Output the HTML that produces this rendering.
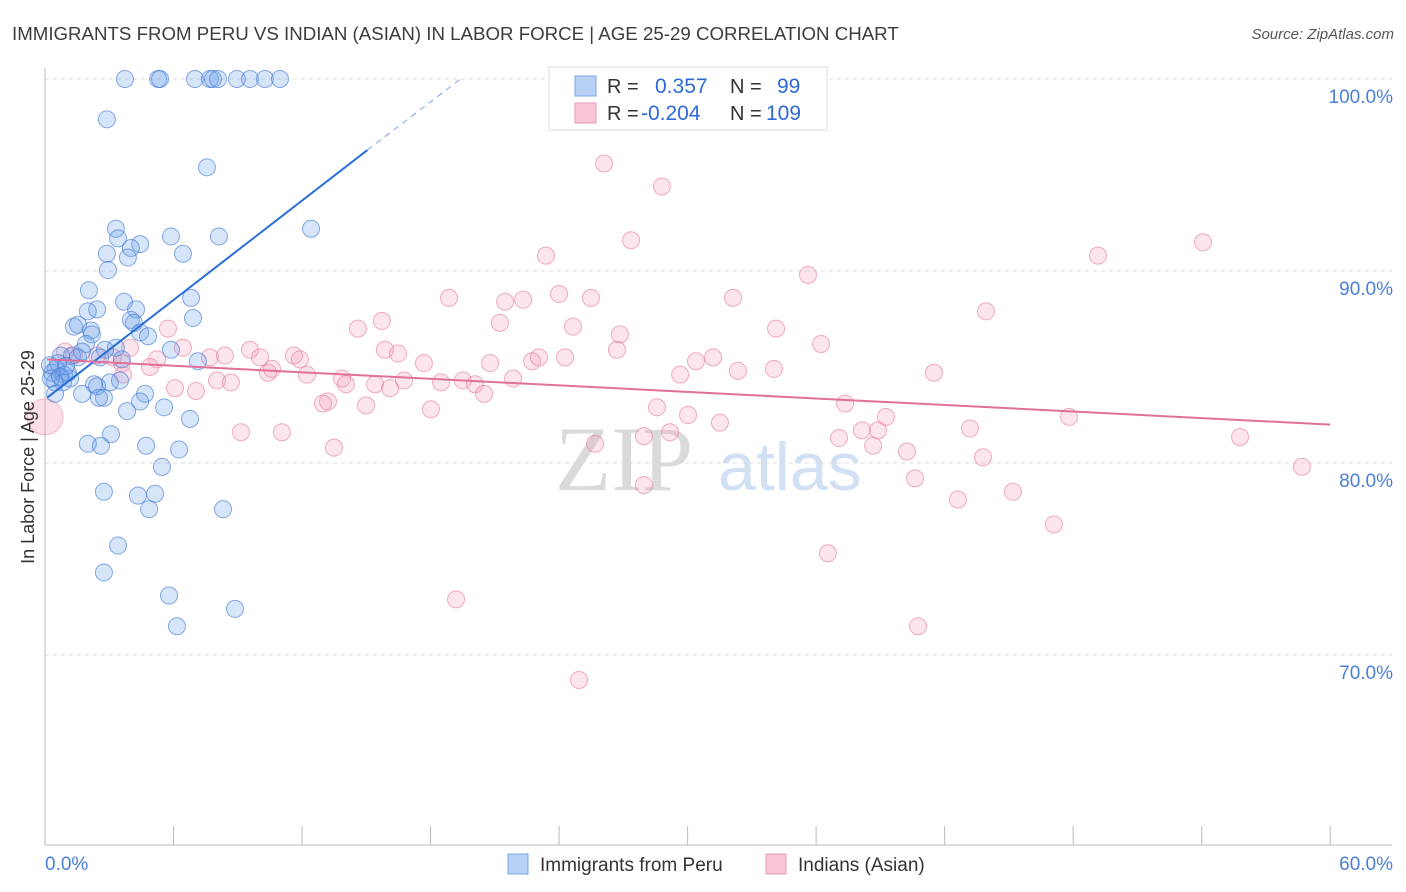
<!DOCTYPE html>
<html><head><meta charset="utf-8"><style>
body{margin:0;background:#fff;font-family:"Liberation Sans",sans-serif;}
svg{display:block}
</style></head><body>
<svg id="chart" width="1406" height="892" xmlns="http://www.w3.org/2000/svg">
<text x="12" y="40" font-size="18.7" fill="#3c3c3c">IMMIGRANTS FROM PERU VS INDIAN (ASIAN) IN LABOR FORCE | AGE 25-29 CORRELATION CHART</text>
<text x="1394" y="39" font-size="15" font-style="italic" fill="#555" text-anchor="end">Source: ZipAtlas.com</text>
<g>
<text x="555" y="490" font-size="92" font-family="Liberation Serif, serif" fill="#dadada">ZIP</text>
<text x="718" y="490" font-size="68" fill="#d2e0f3">atlas</text>
</g>
<g id="grid"></g>
<g id="axes"></g>
<g id="marks"></g>
<g id="lines"></g>
<g>
<rect x="549" y="67" width="278" height="63" fill="#fff" stroke="#ddd"/>
<rect x="575" y="76" width="21" height="20" fill="#b8d0f5" stroke="#7aa6e6"/>
<text x="607" y="93" font-size="20" fill="#333">R =</text>
<text x="655" y="93" font-size="21" fill="#2d6ad8">0.357</text>
<text x="730" y="93" font-size="20" fill="#333">N =</text>
<text x="777" y="93" font-size="21" fill="#2d6ad8">99</text>
<rect x="575" y="103" width="21" height="20" fill="#f9c6d5" stroke="#ea9ab3"/>
<text x="607" y="120" font-size="20" fill="#333">R =</text>
<text x="641" y="120" font-size="21" fill="#2d6ad8">-0.204</text>
<text x="730" y="120" font-size="20" fill="#333">N =</text>
<text x="766" y="120" font-size="21" fill="#2d6ad8">109</text>
</g>
<g>
<rect x="508" y="854" width="20" height="20" fill="#b8d0f5" stroke="#7aa6e6"/>
<text x="540" y="871" font-size="19" fill="#333">Immigrants from Peru</text>
<rect x="766" y="854" width="20" height="20" fill="#f9c6d5" stroke="#ea9ab3"/>
<text x="798" y="871" font-size="19" fill="#333">Indians (Asian)</text>
</g>
<text transform="translate(34,457) rotate(-90)" font-size="18" fill="#333" text-anchor="middle">In Labor Force | Age 25-29</text>
<text x="45" y="870" font-size="19" fill="#4a7fd8">0.0%</text>
<text x="1393" y="870" font-size="19" fill="#4a7fd8" text-anchor="end">60.0%</text>
</svg>
<script>
const yTicks=[100,90,80,70];
const yTickLabels=["100.0%","90.0%","80.0%","70.0%"];
const xTicks=[0,6,12,18,24,30,36,42,48,54,60];
const peruX=[3.73,5.28,5.37,7.0,7.7,7.84,8.08,8.96,9.57,10.27,10.97,2.89,7.56,12.42,3.31,3.41,5.88,8.12,4.44,4.01,2.89,3.87,6.44,2.94,2.05,3.69,6.82,4.25,2.43,2.0,6.91,4.01,4.15,1.35,1.54,2.15,2.19,4.44,4.81,5.88,1.91,3.31,2.8,0.75,1.26,1.54,0.51,0.33,0.89,1.17,0.47,0.84,0.28,1.07,1.73,2.57,3.59,7.14,3.03,3.5,2.29,2.43,2.75,2.52,4.67,4.44,5.56,0.47,1.73,3.83,6.77,3.08,2.0,2.61,4.72,6.26,5.46,2.75,4.34,5.14,4.86,8.31,3.41,2.75,5.79,8.87,6.16,0.61,0.98,0.23,0.7];
const peruY=[100,100,100,100,100,100,100,100,100,100,100,97.9,95.4,92.2,92.2,91.7,91.8,91.8,91.4,91.2,90.9,90.7,90.9,90.05,89.0,88.4,88.6,88.0,88.0,87.9,87.55,87.45,87.3,87.1,87.2,86.9,86.7,86.8,86.6,85.9,86.2,86.0,85.9,85.6,85.6,85.5,84.9,84.7,84.6,84.4,84.2,84.2,84.4,84.7,85.8,85.5,85.4,85.3,84.2,84.3,84.1,84.0,83.4,83.4,83.6,83.2,82.9,83.6,83.6,82.7,82.3,81.5,81.0,80.9,80.9,80.7,79.8,78.5,78.3,78.4,77.6,77.6,75.7,74.3,73.1,72.4,71.5,85.2,85.05,85.1,84.5];
const indX=[26.1,28.8,54.06,27.36,23.39,49.16,35.62,18.86,21.48,22.32,24.0,25.49,32.12,43.93,15.73,21.24,14.61,24.65,34.13,26.84,5.74,36.23,26.7,15.87,9.57,11.62,10.04,7.7,8.4,6.44,5.23,3.97,3.17,3.59,4.9,2.43,1.35,0.93,16.48,17.69,20.78,22.74,23.06,24.28,30.39,31.19,32.35,34.03,41.5,29.65,11.9,10.41,10.6,12.23,13.87,14.05,15.41,16.76,16.11,18.49,19.51,20.07,20.5,21.85,8.68,8.03,6.07,7.05,3.64,13.21,12.98,14.99,18.02,28.57,30.02,31.51,37.35,39.26,43.18,47.81,55.79,9.15,11.06,13.49,25.68,27.96,29.18,37.07,38.14,38.89,38.66,40.24,43.79,40.62,58.68,27.96,42.62,45.19,47.1,36.55,19.19,40.76,24.93];
const indY=[95.6,94.4,91.5,91.6,90.8,90.8,89.8,88.6,88.4,88.5,88.8,88.6,88.6,87.9,87.4,87.3,87.0,87.1,87.0,86.7,87.0,86.2,85.9,85.9,85.9,85.6,85.5,85.5,85.6,86.0,85.4,86.0,85.5,85.2,85.0,85.6,85.6,85.8,85.7,85.2,85.2,85.3,85.5,85.5,85.3,85.5,84.8,84.9,84.7,84.6,85.4,84.7,84.9,84.6,84.4,84.1,84.1,84.3,83.9,84.2,84.3,84.1,83.6,84.4,84.2,84.3,83.9,83.75,84.6,83.2,83.1,83.0,82.8,82.9,82.5,82.1,83.1,82.4,81.8,82.4,81.35,81.6,81.6,80.8,81.0,81.4,81.6,81.3,81.7,81.7,80.9,80.6,80.3,79.2,79.8,78.85,78.1,78.5,76.8,75.3,72.9,71.5,68.7];
const bigIndian=[0.0,82.4];
const peruTrend=[[0.1,83.4],[15.05,96.3],[19.4,100]];
const indTrend=[[0.1,85.4],[60,82.0]];

const NS="http://www.w3.org/2000/svg";
const X=v=>45+v*21.42;
const Y=v=>79+(100-v)*19.2;
function mk(parent,tag,attrs){const e=document.createElementNS(NS,tag);for(const k in attrs)e.setAttribute(k,attrs[k]);document.getElementById(parent).appendChild(e);return e;}
yTicks.forEach((t,i)=>{
  const l=mk('grid','line',{x1:45,x2:1392,y1:Y(t),y2:Y(t),stroke:'#ddd','stroke-dasharray':'4,4'});
  
  
  const tx=mk('grid','text',{x:1393,y:Y(t)+24,'font-size':19,fill:'#4a7fd8','text-anchor':'end'});
  tx.textContent=yTickLabels[i];
  
  
});
let a=mk('axes','line',{x1:45,x2:45,y1:68,y2:845,stroke:'#bbb'});


a=mk('axes','line',{x1:45,x2:1392,y1:845,y2:845,stroke:'#bbb'});


xTicks.forEach(t=>{
  const l=mk('axes','line',{x1:X(t),x2:X(t),y1:826,y2:845,stroke:'#bbb'});
  
  
});
const big=mk('marks','circle',{cx:X(bigIndian[0]),cy:Y(bigIndian[1]),r:18,fill:'rgba(242,150,178,0.3)',stroke:'rgba(232,130,160,0.5)'});


indX.forEach((x,i)=>{
  const c=mk('marks','circle',{cx:X(x),cy:Y(indY[i]),r:8.5,fill:'rgba(242,150,178,0.25)',stroke:'rgba(230,120,155,0.6)','stroke-width':1});
  
  
});
peruX.forEach((x,i)=>{
  const c=mk('marks','circle',{cx:X(x),cy:Y(peruY[i]),r:8.5,fill:'rgba(110,160,235,0.28)',stroke:'rgba(70,125,215,0.65)','stroke-width':1});
  
  
});
let tl=mk('lines','line',{x1:X(peruTrend[0][0]),y1:Y(peruTrend[0][1]),x2:X(peruTrend[1][0]),y2:Y(peruTrend[1][1]),stroke:'#2a6fd6','stroke-width':2});


tl=mk('lines','line',{x1:X(peruTrend[1][0]),y1:Y(peruTrend[1][1]),x2:X(peruTrend[2][0]),y2:Y(peruTrend[2][1]),stroke:'#7aa6e6','stroke-width':1,'stroke-dasharray':'6,5'});


tl=mk('lines','line',{x1:X(indTrend[0][0]),y1:Y(indTrend[0][1]),x2:X(indTrend[1][0]),y2:Y(indTrend[1][1]),stroke:'#e0709a','stroke-width':2});


</script>
</body></html>
